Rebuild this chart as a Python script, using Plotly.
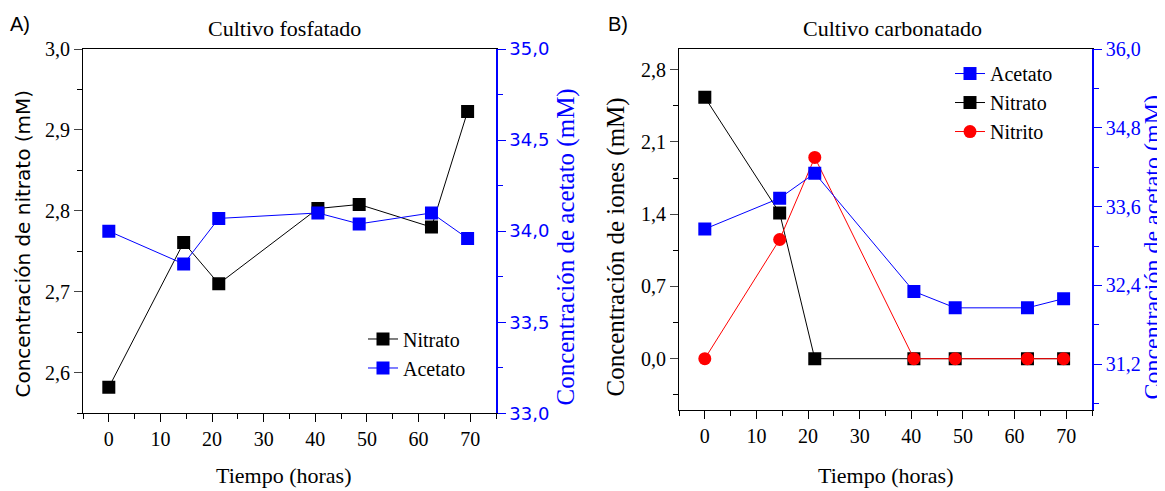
import plotly.graph_objects as go

W, H = 1165, 491

# ---- Data: panel A (Cultivo fosfatado)
tiempo_A = [0, 14.5, 21.3, 40.5, 48.5, 62.5, 69.5]
nitrato_A = [2.582, 2.761, 2.710, 2.803, 2.808, 2.780, 2.923]
acetato_A = [34.00, 33.82, 34.07, 34.10, 34.04, 34.10, 33.96]

# ---- Data: panel B (Cultivo carbonatado)
tiempo_B = [0, 14.5, 21.3, 40.5, 48.5, 62.5, 69.5]
acetato_B = [33.26, 33.73, 34.11, 32.31, 32.06, 32.06, 32.20]
nitrato_B = [2.533, 1.411, 0.0, 0.0, 0.0, 0.0, 0.0]
nitrito_B = [0.0, 1.155, 1.950, 0.0, 0.0, 0.0, 0.0]

SERIF = "Liberation Serif"
SANS = "DejaVu Sans"
ARIAL = "Liberation Sans"
BLUE = "#0000FF"
RED = "#FF0000"
BLACK = "#000000"

# page offset compensation (observed rendering offset)
OX, OY, SY = 8.0, 17.7, 0.9646


def px(x):
    return (x - OX) / W


def py(y):
    return 1 - ((y - OY) / SY) / H


fig = go.Figure()

# Panel A
fig.add_trace(go.Scatter(
    x=tiempo_A, y=nitrato_A, name="Nitrato", mode="lines+markers",
    line=dict(color=BLACK, width=1),
    marker=dict(symbol="square", size=13, color=BLACK),
    xaxis="x", yaxis="y", legend="legend"))
fig.add_trace(go.Scatter(
    x=tiempo_A, y=acetato_A, name="Acetato", mode="lines+markers",
    line=dict(color=BLUE, width=1),
    marker=dict(symbol="square", size=13, color=BLUE),
    xaxis="x", yaxis="y2", legend="legend"))

# Panel B
fig.add_trace(go.Scatter(
    x=tiempo_B, y=acetato_B, name="Acetato", mode="lines+markers",
    line=dict(color=BLUE, width=1),
    marker=dict(symbol="square", size=13, color=BLUE),
    xaxis="x2", yaxis="y4", legend="legend2"))
fig.add_trace(go.Scatter(
    x=tiempo_B, y=nitrato_B, name="Nitrato", mode="lines+markers",
    line=dict(color=BLACK, width=1),
    marker=dict(symbol="square", size=13, color=BLACK),
    xaxis="x2", yaxis="y3", legend="legend2"))
fig.add_trace(go.Scatter(
    x=tiempo_B, y=nitrito_B, name="Nitrito", mode="lines+markers",
    line=dict(color=RED, width=1),
    marker=dict(symbol="circle", size=13, color=RED),
    xaxis="x2", yaxis="y3", legend="legend2"))

xcommon = dict(range=[-5, 75], tick0=0, dtick=10, ticks="outside", ticklen=8,
               tickcolor=BLACK, showline=True, linecolor=BLACK, linewidth=1,
               mirror=True, showgrid=False, zeroline=False,
               tickfont=dict(family=SERIF, size=20, color=BLACK),
               minor=dict(dtick=5, ticks="outside", ticklen=5, tickcolor=BLACK))

fig.update_layout(
    width=W, height=H,
    margin=dict(l=0, r=0, t=0, b=0),
    paper_bgcolor="white", plot_bgcolor="white",
    separators=",.",
    xaxis=dict(domain=[px(83), px(496)], anchor="y", **xcommon),
    xaxis2=dict(domain=[px(679), px(1092)], anchor="y3", **xcommon),
    yaxis=dict(domain=[py(415), py(48)], anchor="x", range=[2.55, 3.0],
               tick0=0, dtick=0.1, tickformat=".1f", ticks="outside", ticklen=8,
               showline=True, linecolor=BLACK, linewidth=1, showgrid=False,
               zeroline=False, tickfont=dict(family=SERIF, size=20, color=BLACK),
               minor=dict(dtick=0.05, ticks="outside", ticklen=5, tickcolor=BLACK)),
    yaxis2=dict(overlaying="y", side="right", anchor="x", range=[33.0, 35.0],
                tick0=0, dtick=0.5, tickformat=".1f", ticks="outside", ticklen=8,
                tickcolor=BLUE, showline=True, linecolor=BLUE, linewidth=1.5,
                showgrid=False, zeroline=False,
                tickfont=dict(family=SANS, size=18, color=BLUE),
                minor=dict(dtick=0.25, ticks="outside", ticklen=5, tickcolor=BLUE)),
    yaxis3=dict(domain=[py(412), py(48)], anchor="x2", range=[-0.5, 3.0],
                tick0=0, dtick=0.7, tickformat=".1f", ticks="outside", ticklen=8,
                showline=True, linecolor=BLACK, linewidth=1, showgrid=False,
                zeroline=False, tickfont=dict(family=SERIF, size=20, color=BLACK),
                minor=dict(dtick=0.35, ticks="outside", ticklen=5, tickcolor=BLACK)),
    yaxis4=dict(overlaying="y3", side="right", anchor="x2", range=[30.5, 36.0],
                tick0=0, dtick=1.2, tickformat=".1f", ticks="outside", ticklen=8,
                tickcolor=BLUE, showline=True, linecolor=BLUE, linewidth=1.5,
                showgrid=False, zeroline=False,
                tickfont=dict(family=SERIF, size=20, color=BLUE),
                minor=dict(dtick=0.6, ticks="outside", ticklen=5, tickcolor=BLUE)),
    legend=dict(x=px(363), y=py(320.5), xanchor="left", yanchor="top",
                bgcolor="rgba(0,0,0,0)", font=dict(family=SERIF, size=20, color=BLACK),
                traceorder="normal", itemwidth=30),
    legend2=dict(x=px(950), y=py(53), xanchor="left", yanchor="top",
                 bgcolor="rgba(0,0,0,0)", font=dict(family=SERIF, size=20, color=BLACK),
                 traceorder="normal", itemwidth=30),
)

annotations = [
    dict(text="A)", x=px(20), y=py(23), font=dict(family=ARIAL, size=20, color=BLACK)),
    dict(text="B)", x=px(618), y=py(23), font=dict(family=ARIAL, size=20, color=BLACK)),
    dict(text="Cultivo fosfatado", x=px(284), y=py(27),
         font=dict(family=SERIF, size=22, color=BLACK)),
    dict(text="Cultivo carbonatado", x=px(892), y=py(27),
         font=dict(family=SERIF, size=22, color=BLACK)),
    dict(text="Tiempo (horas)", x=px(283), y=py(478),
         font=dict(family=SERIF, size=22, color=BLACK)),
    dict(text="Tiempo (horas)", x=px(885), y=py(478),
         font=dict(family=SERIF, size=22, color=BLACK)),
    dict(text="Concentración de nitrato (mM)", x=px(23), y=py(244), textangle=-90,
         font=dict(family=SANS, size=20, color=BLACK)),
    dict(text="Concentración de acetato (mM)", x=px(566), y=py(248), textangle=-90,
         font=dict(family=SERIF, size=25, color=BLUE)),
    dict(text="Concentración de iones (mM)", x=px(616), y=py(248), textangle=-90,
         font=dict(family=SERIF, size=25, color=BLACK)),
    dict(text="Concentración de acetato (mM)", x=px(1152), y=py(248), textangle=-90,
         font=dict(family=SERIF, size=24, color=BLUE)),
]
for a in annotations:
    a.update(xref="paper", yref="paper", showarrow=False,
             xanchor="center", yanchor="middle")
fig.update_layout(annotations=annotations)

fig.write_html("out.html")
